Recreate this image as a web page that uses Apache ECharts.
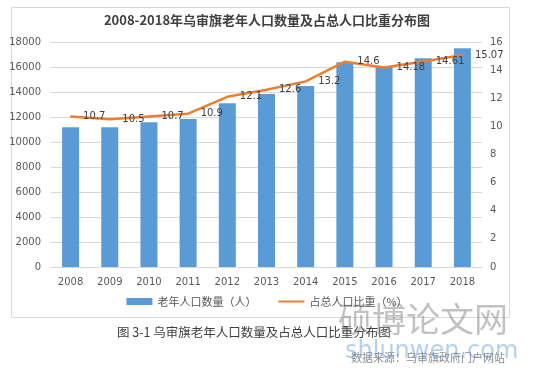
<!DOCTYPE html>
<html><head><meta charset="utf-8">
<script src="https://cdn.jsdelivr.net/npm/echarts@6/dist/echarts.min.js"></script>
<style>html,body{margin:0;padding:0;background:#fff}#c{width:534px;height:373px}</style>
</head><body><div id="c"></div>
<script>
const years = ['2008','2009','2010','2011','2012','2013','2014','2015','2016','2017','2018'];
const elderly = [11180, 11180, 11580, 11840, 13100, 13840, 14480, 16380, 16000, 16700, 17500];
const share = [10.7, 10.5, 10.7, 10.9, 12.1, 12.6, 13.2, 14.6, 14.18, 14.61, 15.07];
const chartTitle = '2008-2018年乌审旗老年人口数量及占总人口比重分布图';
const barName = '老年人口数量（人）';
const lineName = '占总人口比重（%）';
const caption = '图 3-1 乌审旗老年人口数量及占总人口比重分布图';
const source = '数据来源：乌审旗政府门户网站';

const chart = echarts.init(document.getElementById('c'));
const lab = {color:'#595959', fontSize:10, fontFamily:'"DejaVu Sans", sans-serif'};
chart.setOption({
  animation:false,
  title:{text:chartTitle,left:'center',top:9,textStyle:{fontSize:13,fontWeight:'bold',color:'#404040',fontFamily:'"Noto Sans CJK SC", serif'}},
  grid:{left:51,right:52,top:42,bottom:106},
  legend:{bottom:61,left:'center',itemGap:22,itemWidth:26,itemHeight:7,
    textStyle:{color:'#595959',fontSize:11,fontFamily:'"Noto Sans CJK SC", sans-serif'},
    data:[{name:barName,icon:'rect'},{name:lineName,icon:'path://M0,0 L26,0 L26,2 L0,2 Z'}]},
  xAxis:{type:'category',data:years,axisTick:{show:false},
    axisLine:{lineStyle:{color:'#D9D9D9'}},axisLabel:Object.assign({margin:10},lab)},
  yAxis:[
    {type:'value',min:0,max:18000,interval:2000,axisLabel:Object.assign({margin:10,formatter:v=>String(v)},lab),
      splitLine:{lineStyle:{color:'#D9D9D9'}},axisLine:{show:false},axisTick:{show:false}},
    {type:'value',min:0,max:16,interval:2,axisLabel:Object.assign({margin:8},lab),
      splitLine:{show:false},axisLine:{show:false},axisTick:{show:false}}
  ],
  series:[
    {name:barName,type:'bar',data:elderly,barWidth:17,itemStyle:{color:'#5B9BD5'}},
    {name:lineName,type:'line',yAxisIndex:1,data:share,symbol:'circle',symbolSize:1,showSymbol:true,
      lineStyle:{color:'#ED7D31',width:2.5},itemStyle:{color:'#ED7D31'},
      label:{show:true,position:'right',distance:12,color:'#404040',fontSize:10,fontFamily:'"DejaVu Sans", sans-serif'}}
  ],
  graphic:[
    {type:'rect',left:9,top:5,shape:{width:498,height:310},style:{fill:'none',stroke:'#D9D9D9',lineWidth:1},z:-1},
    {type:'text',left:117,top:326,style:{text:caption,fill:'#404040',fontSize:12.5,fontFamily:'"Noto Sans CJK SC", sans-serif'}},
    {type:'text',right:29,top:352,style:{text:source,fill:'#8c8c8c',fontSize:11,fontFamily:'"Noto Sans CJK SC", sans-serif'}},
    {type:'text',left:338,top:302,style:{text:'硕博论文网',fill:'rgba(120,120,120,0.45)',fontSize:34,fontFamily:'"Noto Sans CJK SC", sans-serif'}},
    {type:'text',left:345,top:340,style:{text:'shlunwen.com',fill:'rgba(90,150,220,0.45)',fontSize:24,fontFamily:'"DejaVu Sans", sans-serif'}}
  ]
});
</script></body></html>
